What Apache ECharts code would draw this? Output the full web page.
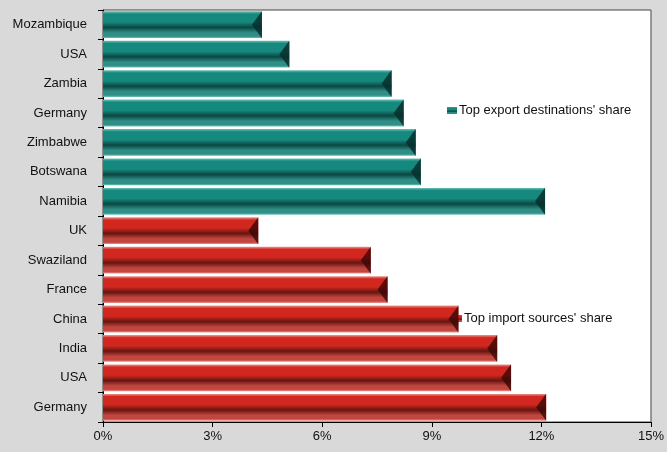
<!DOCTYPE html>
<html>
<head>
<meta charset="utf-8">
<script src="https://cdn.jsdelivr.net/npm/echarts@6/dist/echarts.min.js"></script>
<style>
  html, body { margin: 0; padding: 0; background: #d9d9d9; }
  #chart { width: 667px; height: 452px; }
</style>
</head>
<body>
<div id="chart"></div>
<script>
// categories, top to bottom
const countries = ['Mozambique', 'USA', 'Zambia', 'Germany', 'Zimbabwe', 'Botswana', 'Namibia',
  'UK', 'Swaziland', 'France', 'China', 'India', 'USA', 'Germany'];
// share in %, '-' where the other series applies
const exportShare = [4.35, 5.1, 7.9, 8.23, 8.56, 8.7, 12.1, '-', '-', '-', '-', '-', '-', '-'];
const importShare = ['-', '-', '-', '-', '-', '-', '-', 4.25, 7.33, 7.79, 9.73, 10.79, 11.17, 12.13];
const xTicks = [0, 3, 6, 9, 12, 15];

const font = '"Liberation Sans Narrow", "Liberation Sans", Arial, sans-serif';

// fake bevel with a vertical gradient
const bevel = (light, main, dark, low) => ({
  type: 'linear', x: 0, y: 0, x2: 0, y2: 1,
  colorStops: [
    {offset: 0, color: light},
    {offset: 0.1, color: main},
    {offset: 0.4, color: main},
    {offset: 0.6, color: dark},
    {offset: 0.8, color: low},
    {offset: 0.93, color: low},
    {offset: 1, color: light},
  ],
});

// dark wedge at the bar tip
const tip = 'path://M10,0 L10,10 L0,5 Z';

const chart = echarts.init(document.getElementById('chart'));

chart.setOption({
  backgroundColor: '#d9d9d9',
  animation: false,
  textStyle: {fontFamily: font},
  grid: {
    left: 103, right: 14, top: 10, bottom: 30,
    show: true, backgroundColor: '#ffffff', borderColor: '#444', borderWidth: 1,
  },
  legend: [
    {
      data: ["Top export destinations' share"],
      left: 442, top: 99,
      itemWidth: 10, itemHeight: 7,
      icon: 'rect',
      textStyle: {fontSize: 13, color: '#111', fontFamily: font, padding: [0, 0, 0, -3]},
    },
    {
      data: ["Top import sources' share"],
      left: 447, top: 307, z: 1,
      itemWidth: 10, itemHeight: 7,
      icon: 'rect',
      textStyle: {fontSize: 13, color: '#111', fontFamily: font, padding: [0, 0, 0, -3]},
    },
  ],
  xAxis: {
    type: 'value',
    min: xTicks[0], max: xTicks[xTicks.length - 1], interval: 3,
    axisLine: {show: true, lineStyle: {color: '#000'}},
    axisTick: {show: true, length: 5, lineStyle: {color: '#000'}},
    splitLine: {show: false},
    axisLabel: {formatter: '{value}%', fontSize: 13, color: '#111', margin: 8},
  },
  yAxis: {
    type: 'category',
    data: countries,
    inverse: true,
    axisLine: {show: true, lineStyle: {color: '#000'}},
    axisTick: {show: true, length: 5, lineStyle: {color: '#000'}},
    axisLabel: {fontSize: 13, color: '#111', margin: 16},
  },
  series: [
    {
      name: "Top export destinations' share",
      type: 'bar',
      stack: 'all',
      barCategoryGap: '9%',
      data: exportShare,
      itemStyle: {color: bevel('#6cc0b6', '#16897e', '#0a4742', '#2f8e85')},
    },
    {
      name: "Top import sources' share",
      type: 'bar',
      stack: 'all',
      barCategoryGap: '9%',
      data: importShare,
      itemStyle: {color: bevel('#eb9690', '#d2271f', '#661510', '#c2463f')},
    },
    {
      name: 'exportTip',
      type: 'pictorialBar',
      symbol: tip,
      symbolSize: [10, 27],
      symbolPosition: 'end',
      z: 3,
      data: exportShare,
      itemStyle: {color: '#072f2b', opacity: 0.85},
    },
    {
      name: 'importTip',
      type: 'pictorialBar',
      symbol: tip,
      symbolSize: [10, 27],
      symbolPosition: 'end',
      z: 3,
      data: importShare,
      itemStyle: {color: '#3a0806', opacity: 0.8},
    },
  ],
});
</script>
</body>
</html>
